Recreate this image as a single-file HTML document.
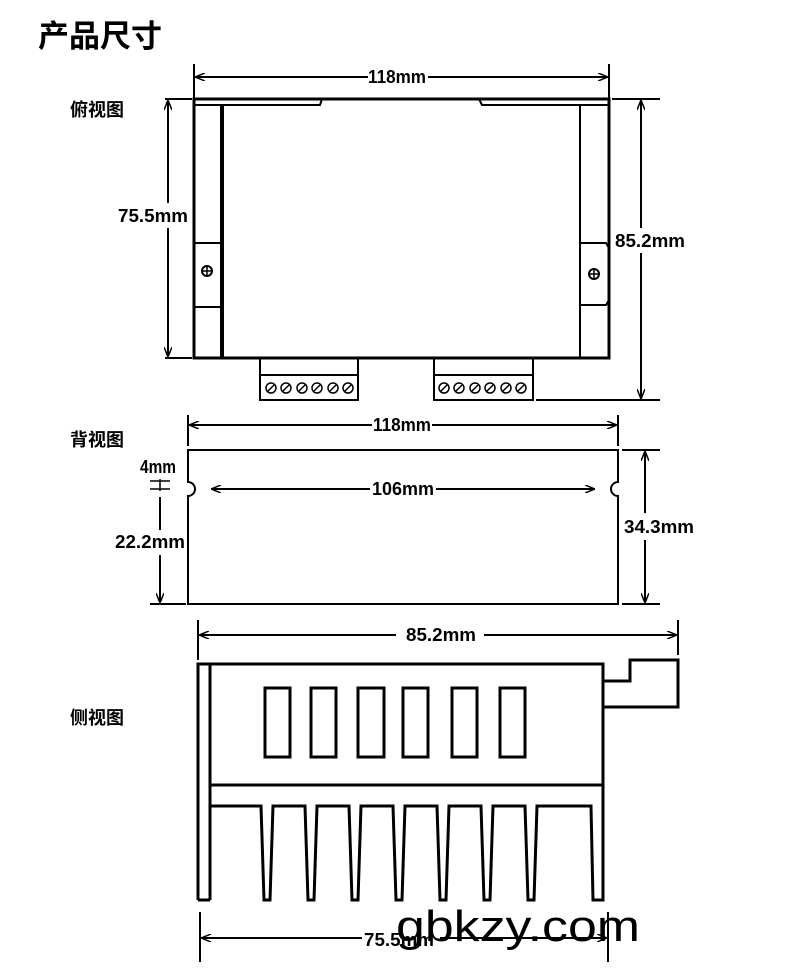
<!DOCTYPE html>
<html><head><meta charset="utf-8"><style>
html,body{margin:0;padding:0;background:#fff;}
svg{display:block}
text{font-family:"Liberation Sans","Noto Sans CJK SC",sans-serif;font-weight:bold;fill:#000}
.d{font-family:"Liberation Sans Narrow","Liberation Sans",sans-serif;font-size:18px;font-weight:bold}
</style></head><body>
<svg width="790" height="970" viewBox="0 0 790 970" xmlns="http://www.w3.org/2000/svg">
<defs>
<marker id="a" markerWidth="10" markerHeight="8" refX="9" refY="4" orient="auto-start-reverse" markerUnits="userSpaceOnUse"><path d="M0,0 L10,4 L0,8" fill="none" stroke="#000" stroke-width="1.5"/></marker>
</defs>
<text x="38" y="47" font-size="31">产品尺寸</text>
<text x="70" y="116" font-size="18">俯视图</text>
<text x="70" y="446" font-size="18">背视图</text>
<text x="70" y="724" font-size="18">侧视图</text>

<g fill="none" stroke="#000" stroke-width="2">
<line x1="194" y1="64" x2="194" y2="100"/><line x1="609" y1="64" x2="609" y2="100"/>
<line x1="196" y1="77" x2="368" y2="77" marker-start="url(#a)"/><line x1="428" y1="77" x2="607" y2="77" marker-end="url(#a)"/>
<rect x="194" y="99" width="415" height="259" stroke-width="3"/>
<path d="M194,105 L320,105 L322,99 M609,105 L482,105 L479,99"/>
<line x1="222" y1="105" x2="222" y2="358" stroke-width="4"/>
<line x1="580" y1="105" x2="580" y2="358"/>
<path d="M194,243 L222,243 M194,307 L222,307 M580,243 L606,243 L609,248 M580,305 L606,305 L609,300"/>
<circle cx="207" cy="271" r="5"/><path d="M203,271h8M207,267v8" stroke-width="1.5"/>
<circle cx="594" cy="274" r="5"/><path d="M590,274h8M594,270v8" stroke-width="1.5"/>
<rect x="260" y="358" width="98" height="42"/><line x1="260" y1="375" x2="358" y2="375"/>
<rect x="434" y="358" width="99" height="42"/><line x1="434" y1="375" x2="533" y2="375"/>
<g stroke-width="1.5">
<circle cx="271" cy="388" r="5"/><circle cx="286" cy="388" r="5"/><circle cx="302" cy="388" r="5"/><circle cx="317" cy="388" r="5"/><circle cx="333" cy="388" r="5"/><circle cx="348" cy="388" r="5"/>
<circle cx="444" cy="388" r="5"/><circle cx="459" cy="388" r="5"/><circle cx="475" cy="388" r="5"/><circle cx="490" cy="388" r="5"/><circle cx="506" cy="388" r="5"/><circle cx="521" cy="388" r="5"/>
<path d="M268,391l6,-6M283,391l6,-6M299,391l6,-6M314,391l6,-6M330,391l6,-6M345,391l6,-6M441,391l6,-6M456,391l6,-6M472,391l6,-6M487,391l6,-6M503,391l6,-6M518,391l6,-6"/>
</g>
<line x1="165" y1="99" x2="192" y2="99"/><line x1="165" y1="358" x2="192" y2="358"/>
<line x1="168" y1="101" x2="168" y2="203" marker-start="url(#a)"/><line x1="168" y1="228" x2="168" y2="356" marker-end="url(#a)"/>
<line x1="612" y1="99" x2="660" y2="99"/><line x1="536" y1="400" x2="660" y2="400"/>
<line x1="641" y1="101" x2="641" y2="228" marker-start="url(#a)"/><line x1="641" y1="253" x2="641" y2="398" marker-end="url(#a)"/>

<line x1="188" y1="415" x2="188" y2="446"/><line x1="618" y1="415" x2="618" y2="446"/>
<line x1="190" y1="425" x2="372" y2="425" marker-start="url(#a)"/><line x1="432" y1="425" x2="616" y2="425" marker-end="url(#a)"/>
<path d="M188,450 L618,450 L618,482 A7,7 0 0 0 618,496 L618,604 L188,604 L188,496 A7,7 0 0 0 188,482 Z"/>
<line x1="212" y1="489" x2="370" y2="489" marker-start="url(#a)"/><line x1="436" y1="489" x2="594" y2="489" marker-end="url(#a)"/>
<line x1="150" y1="481" x2="170" y2="481" stroke-width="1.5"/><line x1="150" y1="489" x2="170" y2="489" stroke-width="1.5"/>
<line x1="160" y1="479" x2="160" y2="491" stroke-width="1.5"/>
<line x1="160" y1="497" x2="160" y2="530"/><line x1="160" y1="555" x2="160" y2="602" marker-end="url(#a)"/>
<line x1="150" y1="604" x2="186" y2="604"/>
<line x1="622" y1="450" x2="660" y2="450"/><line x1="622" y1="604" x2="660" y2="604"/>
<line x1="645" y1="452" x2="645" y2="513" marker-start="url(#a)"/><line x1="645" y1="540" x2="645" y2="602" marker-end="url(#a)"/>

<line x1="198" y1="620" x2="198" y2="660"/><line x1="678" y1="620" x2="678" y2="655"/>
<line x1="200" y1="635" x2="396" y2="635" marker-start="url(#a)"/><line x1="484" y1="635" x2="676" y2="635" marker-end="url(#a)"/>
<path d="M198,900 L198,664 L603,664 L603,785 L210,785 M210,664 L210,900 Z" stroke-width="3"/>
<line x1="198" y1="900" x2="210" y2="900" stroke-width="3"/>
<path d="M603,681 L630,681 L630,660 L678,660 L678,707 L603,707" stroke-width="3"/>
<g stroke-width="3">
<rect x="265" y="688" width="25" height="69"/><rect x="311" y="688" width="25" height="69"/><rect x="358" y="688" width="26" height="69"/><rect x="403" y="688" width="25" height="69"/><rect x="452" y="688" width="25" height="69"/><rect x="500" y="688" width="25" height="69"/>
<path d="M210,806 L261,806 L264,900 L270,900 L273,806 L305,806 L308,900 L314,900 L317,806 L349,806 L352,900 L358,900 L361,806 L393,806 L396,900 L402,900 L405,806 L437,806 L440,900 L446,900 L449,806 L481,806 L484,900 L490,900 L493,806 L525,806 L528,900 L534,900 L537,806 L591,806 L593,900 L603,900 L603,785"/>
</g>
<line x1="200" y1="912" x2="200" y2="962"/><line x1="608" y1="912" x2="608" y2="962"/>
<line x1="202" y1="938" x2="362" y2="938" marker-start="url(#a)"/><line x1="440" y1="938" x2="606" y2="938" marker-end="url(#a)"/>
</g>
<text x="368" y="83" class="d" textLength="58" lengthAdjust="spacingAndGlyphs">118mm</text>
<text x="118" y="222" class="d" textLength="70" lengthAdjust="spacingAndGlyphs">75.5mm</text>
<text x="615" y="247" class="d" textLength="70" lengthAdjust="spacingAndGlyphs">85.2mm</text>
<text x="373" y="431" class="d" textLength="58" lengthAdjust="spacingAndGlyphs">118mm</text>
<text x="140" y="473" class="d" font-size="15" textLength="36" lengthAdjust="spacingAndGlyphs">4mm</text>
<text x="372" y="495" class="d" textLength="62" lengthAdjust="spacingAndGlyphs">106mm</text>
<text x="115" y="548" class="d" textLength="70" lengthAdjust="spacingAndGlyphs">22.2mm</text>
<text x="624" y="533" class="d" textLength="70" lengthAdjust="spacingAndGlyphs">34.3mm</text>
<text x="406" y="641" class="d" textLength="70" lengthAdjust="spacingAndGlyphs">85.2mm</text>
<text x="364" y="946" class="d" textLength="70" lengthAdjust="spacingAndGlyphs">75.5mm</text>
<text x="396" y="941" font-size="44" style="font-weight:normal" textLength="244" lengthAdjust="spacingAndGlyphs">gbkzy.com</text>
</svg>
</body></html>
